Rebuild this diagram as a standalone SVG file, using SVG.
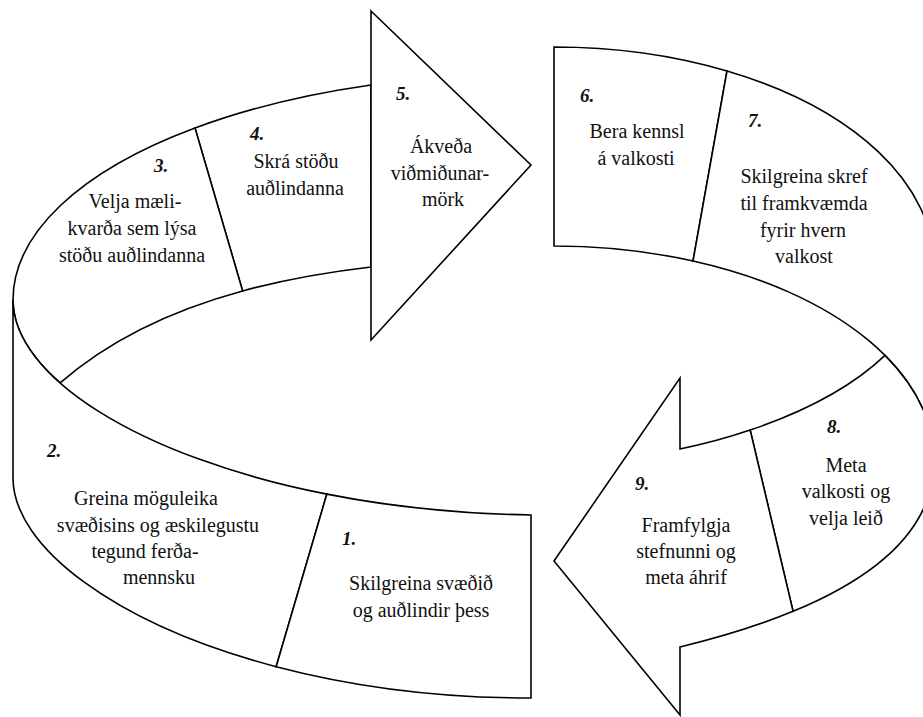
<svg xmlns="http://www.w3.org/2000/svg" width="923" height="717" viewBox="0 0 923 717">
<style>
.seg{fill:#fff;stroke:#000;stroke-width:1.6;stroke-linejoin:miter}
.t{font-family:"Liberation Serif","DejaVu Serif",serif;font-size:20px;fill:#111;text-anchor:middle}
.n{font-family:"Liberation Serif","DejaVu Serif",serif;font-size:19px;font-weight:bold;font-style:italic;fill:#111}
</style>
<rect width="923" height="717" fill="#fff"/>
<g id="node-4">
<path class="seg" d="M195,128 A518,226 0 0 1 371,85 L371,267 C326.6,272.18 283.43,279.82 242.62,290.94 Z"/>
<text class="n" x="250" y="140" font-family="Liberation Serif, serif">4.</text>
<text class="t" font-family="Liberation Serif, serif"><tspan x="296" y="168">Skrá stöðu</tspan><tspan x="295" y="195">auðlindanna</tspan></text>
</g>
<g id="node-3">
<path class="seg" d="M13,300 A518,226 0 0 1 195,128 L242.62,290.94 C173.12,309.88 110.44,338.89 60.12,382.96 C29.65,356.17 13,327.7 13,300 Z"/>
<text class="n" x="154" y="172">3.</text>
<text class="t"><tspan x="135" y="208">Velja mæli-</tspan><tspan x="132" y="235">kvarða sem lýsa</tspan><tspan x="132" y="262">stöðu auðlindanna</tspan></text>
</g>
<g id="node-5">
<polygon class="seg" points="371,11 531,165 371,340"/>
<text class="n" x="396" y="100">5.</text>
<text class="t"><tspan x="441" y="153">Ákveða</tspan><tspan x="440" y="180">viðmiðunar-</tspan><tspan x="443" y="206">mörk</tspan></text>
</g>
<g id="node-2">
<path class="seg" d="M13,300 C13,375.5 136.7,456.7 326.85,494.1 L276.16,666.65 C115.29,624.38 13,546.5 13,478 Z"/>
<text class="n" x="47" y="457">2.</text>
<text class="t"><tspan x="146" y="505">Greina möguleika</tspan><tspan x="158" y="532">svæðisins og æskilegustu</tspan><tspan x="145" y="558">tegund ferða-</tspan><tspan x="159" y="584">mennsku</tspan></text>
</g>
<g id="node-1">
<path class="seg" d="M326.85,494.1 C388.55,506.25 457.26,513.78 531,515 L531,698 C436.5,698 350.14,686.09 276.16,666.65 Z"/>
<text class="n" x="342" y="545">1.</text>
<text class="t"><tspan x="421" y="590">Skilgreina svæðið</tspan><tspan x="421" y="617">og auðlindir þess</tspan></text>
</g>
<g id="node-6">
<path class="seg" d="M554,47 A380,219 0 0 1 727,71 L693,261 A380,215 0 0 0 554,246 Z"/>
<text class="n" x="580" y="102">6.</text>
<text class="t"><tspan x="637" y="138">Bera kennsl</tspan><tspan x="636" y="165">á valkosti</tspan></text>
</g>
<g id="node-7">
<path class="seg" d="M727,71 A380,219 0 0 1 934,266 L934,461 A380,215 0 0 0 693,261 Z"/>
<text class="n" x="748" y="127">7.</text>
<text class="t"><tspan x="804" y="183">Skilgreina skref</tspan><tspan x="804" y="210">til framkvæmda</tspan><tspan x="803" y="237">fyrir hvern</tspan><tspan x="804" y="263">valkost</tspan></text>
</g>
<g id="node-8">
<path class="seg" d="M750.17,430.11 C800.82,412.92 851,387.77 885,355.4 A380,215 0 0 1 934,461 C934,523.16 885.26,573.27 793.06,611.34 Z"/>
<text class="n" x="827" y="433">8.</text>
<text class="t"><tspan x="846" y="472">Meta</tspan><tspan x="846" y="498">valkosti og</tspan><tspan x="846" y="525">velja leið</tspan></text>
</g>
<g id="node-9">
<path class="seg" d="M680,449 C702.4,444.52 726.34,438.2 750.17,430.11 L793.06,611.34 C760.66,624.71 722.9,636.6 680,647 L680,715 L554,561 L680,378 Z"/>
<text class="n" x="635" y="490">9.</text>
<text class="t"><tspan x="686" y="532">Framfylgja</tspan><tspan x="686" y="558">stefnunni og</tspan><tspan x="686" y="584">meta áhrif</tspan></text>
</g>
<g id="connectors"/>
</svg>
